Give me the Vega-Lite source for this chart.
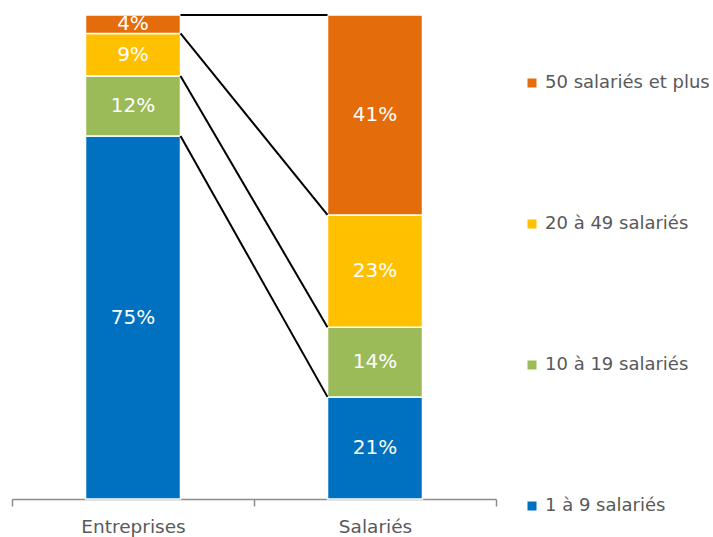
{
  "$schema": "https://vega.github.io/schema/vega-lite/v6.json",
  "width": 484,
  "height": 484,
  "autosize": {"type": "none"},
  "padding": {"left": 12, "top": 15, "right": 217, "bottom": 38},
  "config": {"view": {"stroke": null}, "font": "DejaVu Sans"},
  "datasets": {
    "parts": [
      {"cat": "Entreprises", "group": "1 à 9 salariés", "share": 0.750},
      {"cat": "Entreprises", "group": "10 à 19 salariés", "share": 0.124},
      {"cat": "Entreprises", "group": "20 à 49 salariés", "share": 0.088},
      {"cat": "Entreprises", "group": "50 salariés et plus", "share": 0.038},
      {"cat": "Salariés", "group": "1 à 9 salariés", "share": 0.211},
      {"cat": "Salariés", "group": "10 à 19 salariés", "share": 0.144},
      {"cat": "Salariés", "group": "20 à 49 salariés", "share": 0.232},
      {"cat": "Salariés", "group": "50 salariés et plus", "share": 0.413}
    ],
    "links": [
      {"from": "Entreprises", "to": "Salariés", "a": 0.750, "b": 0.211},
      {"from": "Entreprises", "to": "Salariés", "a": 0.874, "b": 0.355},
      {"from": "Entreprises", "to": "Salariés", "a": 0.962, "b": 0.587},
      {"from": "Entreprises", "to": "Salariés", "a": 1.0, "b": 1.0}
    ]
  },
  "layer": [
    {
      "data": {"name": "parts"},
      "transform": [
        {"stack": "share", "groupby": ["cat"], "sort": [{"field": "group", "order": "ascending"}], "as": ["lo", "hi"]}
      ],
      "mark": {"type": "bar", "size": 95, "stroke": "white", "strokeWidth": 1.5},
      "encoding": {
        "x": {
          "field": "cat", "type": "nominal",
          "scale": {"domain": ["Entreprises", "Salariés"], "paddingInner": 0, "paddingOuter": 0},
          "axis": {
            "title": null, "labelAngle": 0, "tickBand": "extent", "grid": false,
            "domainColor": "#8c8c8c", "tickColor": "#8c8c8c", "domainWidth": 1.5, "tickWidth": 1.5,
            "tickSize": 7, "labelFontSize": 18.5, "labelColor": "#595959", "labelPadding": 11
          }
        },
        "y": {"field": "lo", "type": "quantitative", "scale": {"domain": [0, 1]}, "axis": null},
        "y2": {"field": "hi"},
        "color": {
          "field": "group", "type": "nominal",
          "scale": {
            "domain": ["50 salariés et plus", "20 à 49 salariés", "10 à 19 salariés", "1 à 9 salariés"],
            "range": ["#E46C0A", "#FFC000", "#9BBB59", "#0070C0"]
          },
          "legend": {
            "orient": "none", "legendX": 511, "legendY": 59, "title": null, "padding": 0,
            "symbolType": "square", "symbolSize": 81, "symbolStrokeWidth": 0,
            "labelFontSize": 18, "labelColor": "#595959", "labelLimit": 300,
            "rowPadding": 123, "labelOffset": 4
          }
        }
      }
    },
    {
      "data": {"name": "links"},
      "mark": {"type": "rule", "color": "black", "strokeWidth": 2},
      "encoding": {
        "x": {"field": "from", "type": "nominal", "bandPosition": 0.6963},
        "x2": {"field": "to", "bandPosition": 0.3037},
        "y": {"field": "a", "type": "quantitative"},
        "y2": {"field": "b"}
      }
    },
    {
      "data": {"name": "parts"},
      "transform": [
        {"stack": "share", "groupby": ["cat"], "sort": [{"field": "group", "order": "ascending"}], "as": ["lo", "hi"]},
        {"calculate": "(datum.lo + datum.hi) / 2", "as": "mid"}
      ],
      "mark": {"type": "text", "color": "white", "fontSize": 20},
      "encoding": {
        "x": {"field": "cat", "type": "nominal"},
        "y": {"field": "mid", "type": "quantitative"},
        "text": {"field": "share", "format": ".0%"}
      }
    }
  ]
}
